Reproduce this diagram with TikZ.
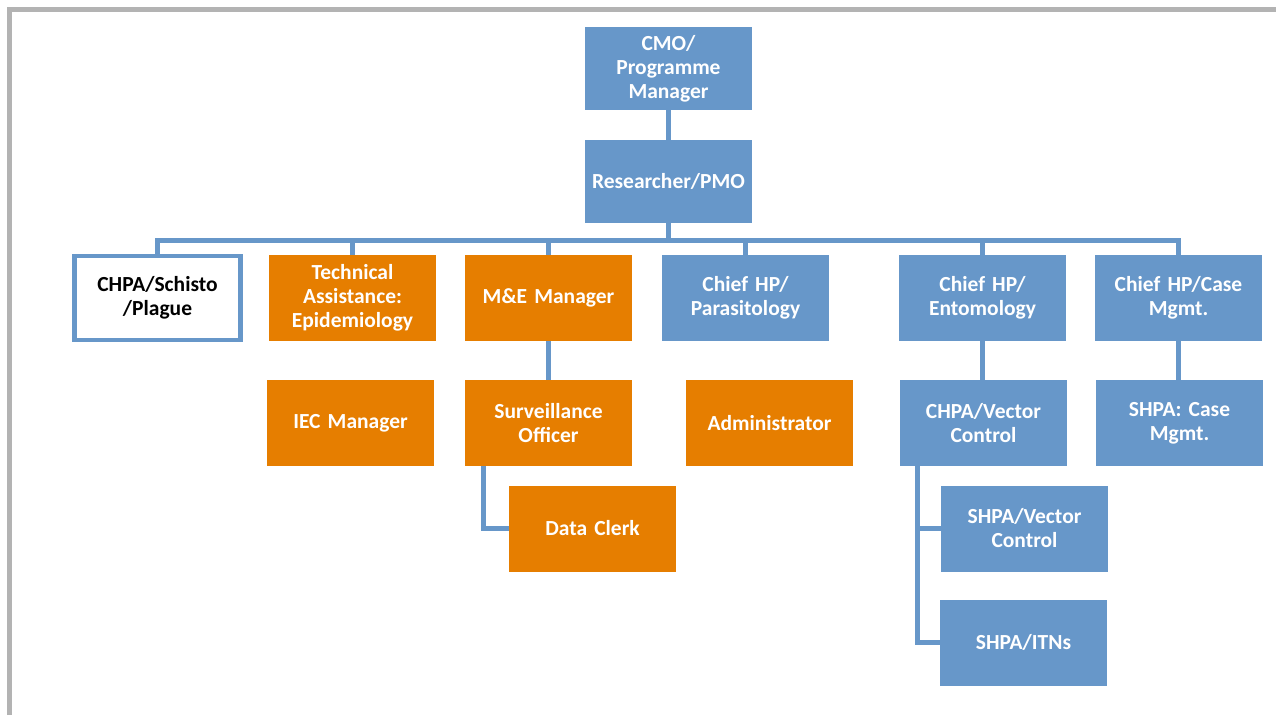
\documentclass[tikz,border=0pt]{standalone}
\usepackage{fontspec}
\setmainfont{Carlito}
\definecolor{bblue}{HTML}{6797C9}
\definecolor{borange}{HTML}{E67E00}
\definecolor{bgray}{HTML}{B3B3B3}
\begin{document}
\begin{tikzpicture}[x=1pt,y=-1pt,
  every node/.style={font=\fontsize{21.5}{24}\selectfont\bfseries, align=center, inner sep=0pt},
  bbox/.style={fill=bblue, text=white, minimum width=167pt, minimum height=86pt, text width=164pt},
  obox/.style={fill=borange, text=white, minimum width=167pt, minimum height=86pt, text width=164pt},
  wbox/.style={fill=white, draw=bblue, line width=4.5pt, text=black, minimum width=166pt, minimum height=84pt, text width=158pt},
  link/.style={draw=bblue, line width=5pt}]
\useasboundingbox (0,0) rectangle (1276,715);
\draw[bgray, line width=5pt] (9.5,715) -- (9.5,9.5) -- (1276,9.5);
% top
\node[bbox, minimum height=83pt] (cmo) at (668.5,68.5) {CMO/\\Programme\\Manager};
\node[bbox, minimum height=83pt] (res) at (668.5,181.5) {Researcher/PMO};
% row 1
\node[wbox] (chpa) at (157.5,298) {CHPA/Schisto\\/Plague};
\node[obox] (tech) at (352.5,298) {Technical\\Assistance:\\Epidemiology};
\node[obox] (me) at (548.5,298) {M\&E Manager};
\node[bbox] (para) at (745.5,298) {Chief HP/\\Parasitology};
\node[bbox] (ento) at (982.5,298) {Chief HP/\\Entomology};
\node[bbox] (case) at (1178.5,298) {Chief HP/Case\\Mgmt.};
% row 2
\node[obox] (iec) at (350.5,423) {IEC Manager};
\node[obox] (surv) at (548.5,423) {Surveillance\\Officer};
\node[obox] (admin) at (769.5,423) {Administrator};
\node[bbox] (vec) at (983.5,423) {CHPA/Vector\\Control};
\node[bbox] (scase) at (1179.5,423) {SHPA: Case\\Mgmt.};
% row 3
\node[obox] (clerk) at (592.5,528.5) {Data Clerk};
\node[bbox] (shv) at (1024.5,528.5) {SHPA/Vector\\Control};
\node[bbox] (itn) at (1023.5,642.5) {SHPA/ITNs};
% connectors
\coordinate (bus) at (668.5,240);
\draw[link] (cmo.south) -- (res.north);
\draw[link] (res.south) -- (res.south |- bus);
\draw[link] (chpa.north) |- (case.north |- bus) -- (case.north);
\draw[link] (tech.north) -- (tech.north |- bus);
\draw[link] (me.north) -- (me.north |- bus);
\draw[link] (para.north) -- (para.north |- bus);
\draw[link] (ento.north) -- (ento.north |- bus);
\draw[link] (me.south) -- (surv.north);
\draw[link] (ento.south) -- (ento.south |- vec.north);
\draw[link] (case.south) -- (case.south |- scase.north);
\draw[link] ([xshift=19pt]surv.south west) |- (clerk.west);
\draw[link] ([xshift=18pt]vec.south west) |- (itn.west);
\draw[link] ([xshift=18pt]vec.south west) |- (shv.west);
\end{tikzpicture}
\end{document}
